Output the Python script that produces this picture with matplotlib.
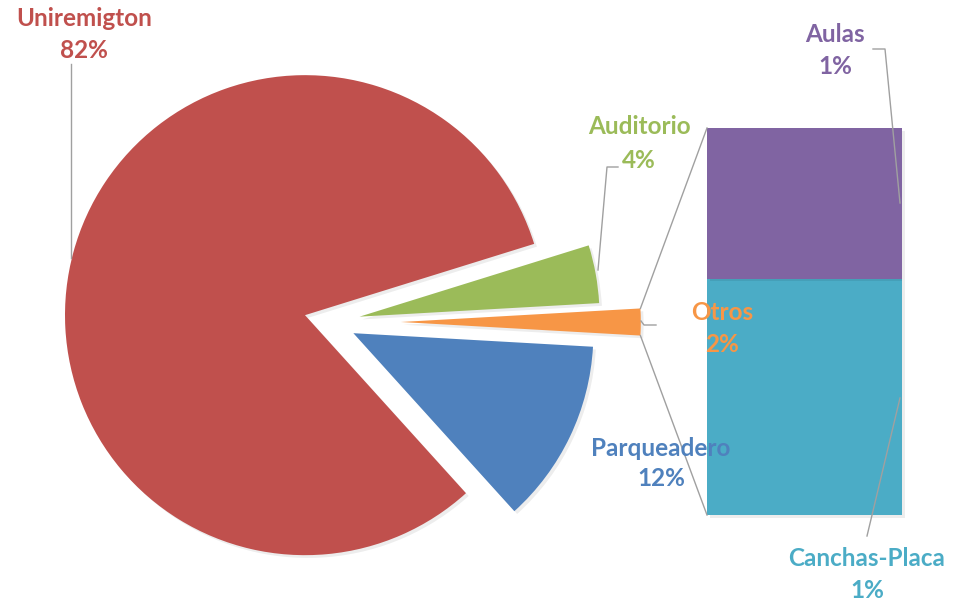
import numpy as np
import matplotlib.pyplot as plt
import matplotlib.patheffects as pe

# data (percent)
pie_labels = ["Otros", "Auditorio", "Uniremigton", "Parqueadero"]
pie_values = [1.8, 3.9, 81.9, 12.4]
bar_labels = ["Canchas-Placa", "Aulas"]
bar_values = [1.1, 0.7]

pie_colors = ["#F79646", "#9BBB59", "#C0504D", "#4F81BD"]
bar_colors = ["#4BACC6", "#8064A2"]
explode_frac = [0.295, 0.125, 0.108, 0.108]

W, H = 959, 604
plt.rcParams['font.family'] = ['Lato', 'DejaVu Sans']

fig = plt.figure(figsize=(W / 100, H / 100), dpi=100)
ax = fig.add_axes([0, 0, 1, 1])


def Y(py):
    # pixel row (from top) -> data y (from bottom)
    return H - py


shadow = [pe.SimplePatchShadow(offset=(2, -2), shadow_rgbFace='k', alpha=0.07), pe.Normal()]

radius = 240
cx, cy = 330, Y(322)
start = -pie_values[0] * 3.6 / 2
# pie explode is in data units, so scale by the radius
explode = [e * radius for e in explode_frac]
wedges, _ = ax.pie(pie_values, explode=explode, colors=pie_colors, startangle=start,
                   center=(cx, cy), radius=radius, frame=True, counterclock=True,
                   wedgeprops=dict(linewidth=0))
for w in wedges:
    w.set_path_effects(shadow)

# bar of the "Otros" slice
bar_x, bar_w = 804.5, 195
bar_bottom = Y(515)
scale = 387 / sum(bar_values)
bottom = bar_bottom
for v, c in zip(bar_values, bar_colors):
    b = ax.bar(bar_x, v * scale, bottom=bottom, width=bar_w, color=c, linewidth=0)
    b[0].set_path_effects(shadow)
    bottom += v * scale
bar_top = bottom

# connector lines from the Otros slice to the bar
ox = cx + explode[0]
half = np.deg2rad(pie_values[0] * 3.6 / 2)
corner_x = ox + radius * np.cos(half)
corner_dy = radius * np.sin(half)
grey = "#A0A0A0"
ax.plot([corner_x, bar_x - bar_w / 2], [cy + corner_dy, bar_top], color=grey, lw=1)
ax.plot([corner_x, bar_x - bar_w / 2], [cy - corner_dy, bar_bottom], color=grey, lw=1)

# leader lines
leaders = [
    [(71, 64), (71, 258)],
    [(618, 167), (607, 167), (598, 270)],
    [(656, 325), (644, 325), (641, 321)],
    [(873, 49), (885, 49), (900, 203)],
    [(867, 536), (900, 398)],
]
for pts in leaders:
    ax.plot([p[0] for p in pts], [Y(p[1]) for p in pts], color=grey, lw=1)


def pct(v):
    return "{:.0f}%".format(v)


# labels: (name, value, colour, x, y_name, y_pct)
labels = [
    ("Uniremigton", pie_values[2], pie_colors[2], 84, 18, 50),
    ("Auditorio", pie_values[1], pie_colors[1], 639, 127, 160),
    ("Otros", pie_values[0], pie_colors[0], 722, 313, 345),
    ("Parqueadero", pie_values[3], pie_colors[3], 661, 448, 478),
    ("Aulas", bar_values[1], bar_colors[1], 835, 35, 67),
    ("Canchas-Placa", bar_values[0], bar_colors[0], 867, 558, 590),
]
for name, v, c, x, y1, y2 in labels:
    ax.text(x, Y(y1), name, color=c, fontsize=17.5, fontweight='bold', ha='center', va='center')
    ax.text(x, Y(y2), pct(v), color=c, fontsize=17.5, fontweight='bold', ha='center', va='center')

ax.set_xlim(0, W)
ax.set_ylim(0, H)
ax.set_aspect('auto')
ax.axis('off')

fig.savefig("out.png", dpi=100)
